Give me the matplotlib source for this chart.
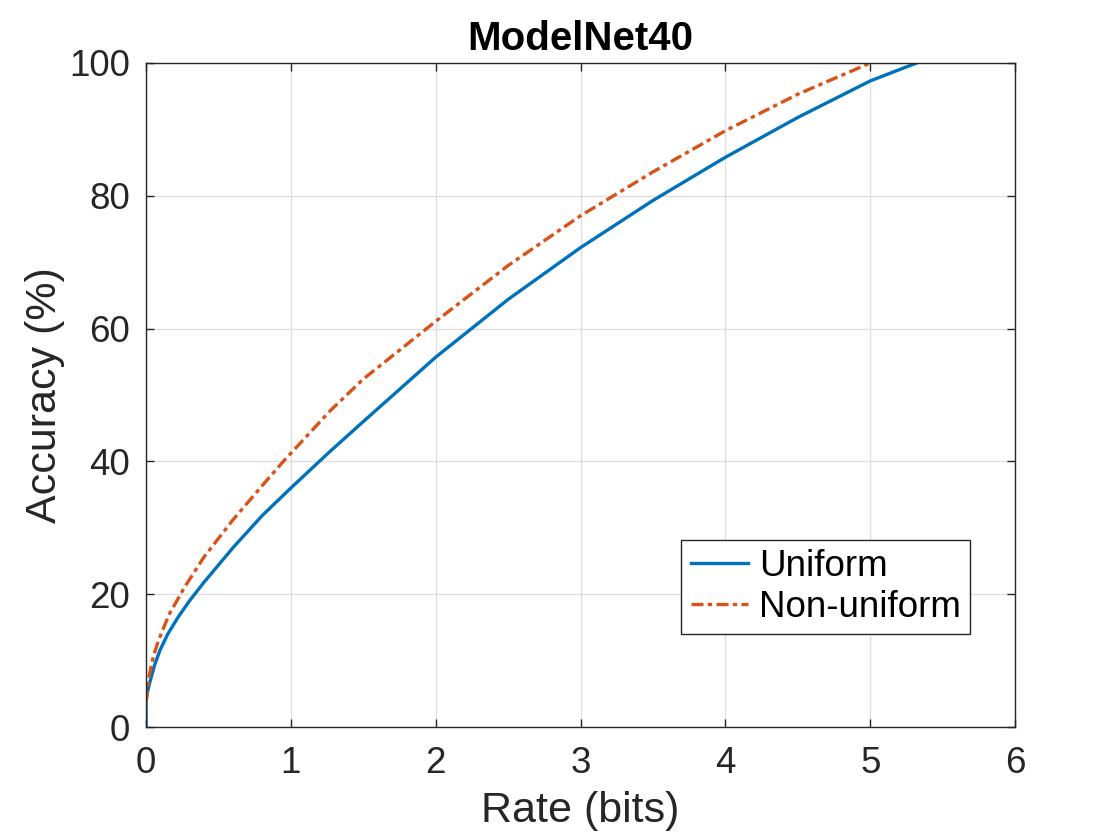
import numpy as np
import matplotlib
matplotlib.use("Agg")
import matplotlib.pyplot as plt

plt.rcParams['font.family'] = ['Liberation Sans', 'DejaVu Sans']

# values
uniform_rate = [0.0, 0.0, 0.01, 0.028, 0.06, 0.097, 0.15, 0.223, 0.3, 0.4, 0.6, 0.8, 1.0, 1.27, 1.5, 2.0, 2.5, 3.0, 3.5, 4.0, 4.5, 5.0, 5.32]
uniform_acc = [0.0, 3.9, 5.3, 6.9, 9.4, 11.6, 14.0, 16.6, 19.0, 21.8, 27.0, 31.8, 36.0, 41.5, 46.0, 55.7, 64.4, 72.2, 79.3, 85.8, 91.8, 97.3, 100.0]
nonuni_rate = [0.0, 0.01, 0.023, 0.05, 0.085, 0.16, 0.27, 0.4, 0.6, 0.8, 0.948, 1.27, 1.5, 2.0, 2.5, 3.0, 3.5, 4.0, 4.5, 5.0]
nonuni_acc = [3.7, 5.8, 7.9, 10.6, 13.0, 17.0, 21.2, 25.6, 31.2, 36.3, 40.0, 47.6, 52.4, 61.1, 69.5, 77.0, 83.6, 89.8, 95.3, 100.0]

x_ticks = [0, 1, 2, 3, 4, 5, 6]
y_ticks = [0, 20, 40, 60, 80, 100]
title = "ModelNet40"
x_label = "Rate (bits)"
y_label = "Accuracy (%)"

c_blue = "#0072BD"
c_orange = "#D95319"
txt_col = "#262626"

fig = plt.figure(figsize=(11.2, 8.4), dpi=100)
ax = fig.add_axes([0.1304, 0.1345, 0.7759, 0.7905])

ax.plot(uniform_rate, uniform_acc, color=c_blue, linewidth=2.4, label="Uniform")
ax.plot(nonuni_rate, nonuni_acc, color=c_orange, linewidth=2.4, linestyle=(0, (3.6, 1.3, 1.3, 1.3)), label="Non-uniform")

ax.set_xlim(0, 6)
ax.set_ylim(0, 100)
ax.set_xticks(x_ticks)
ax.set_yticks(y_ticks)
ax.grid(True, color="#dedede", linewidth=0.9)
ax.set_axisbelow(True)
ax.tick_params(direction="in", top=True, right=True, labelsize=26.5, colors=txt_col, length=6, width=1)
ax.tick_params(axis="x", pad=14)
ax.tick_params(axis="y", pad=11.5)
for sp in ax.spines.values():
    sp.set_color(txt_col)
    sp.set_linewidth(1.0)

ax.set_title(title, fontsize=29, fontweight="bold", color="black", pad=9)
ax.set_xlabel(x_label, fontsize=31, color=txt_col, labelpad=7)
ax.set_ylabel(y_label, fontsize=31, color=txt_col, labelpad=3)

leg = ax.legend(loc="lower right", bbox_to_anchor=(0.948, 0.14), fontsize=26.5, fancybox=False,
                framealpha=1, edgecolor=txt_col, handlelength=1.55, borderpad=0.25, labelspacing=0.15,
                handletextpad=0.3, borderaxespad=0)
leg.get_frame().set_linewidth(1.0)

fig.savefig("out.png", dpi=100)
